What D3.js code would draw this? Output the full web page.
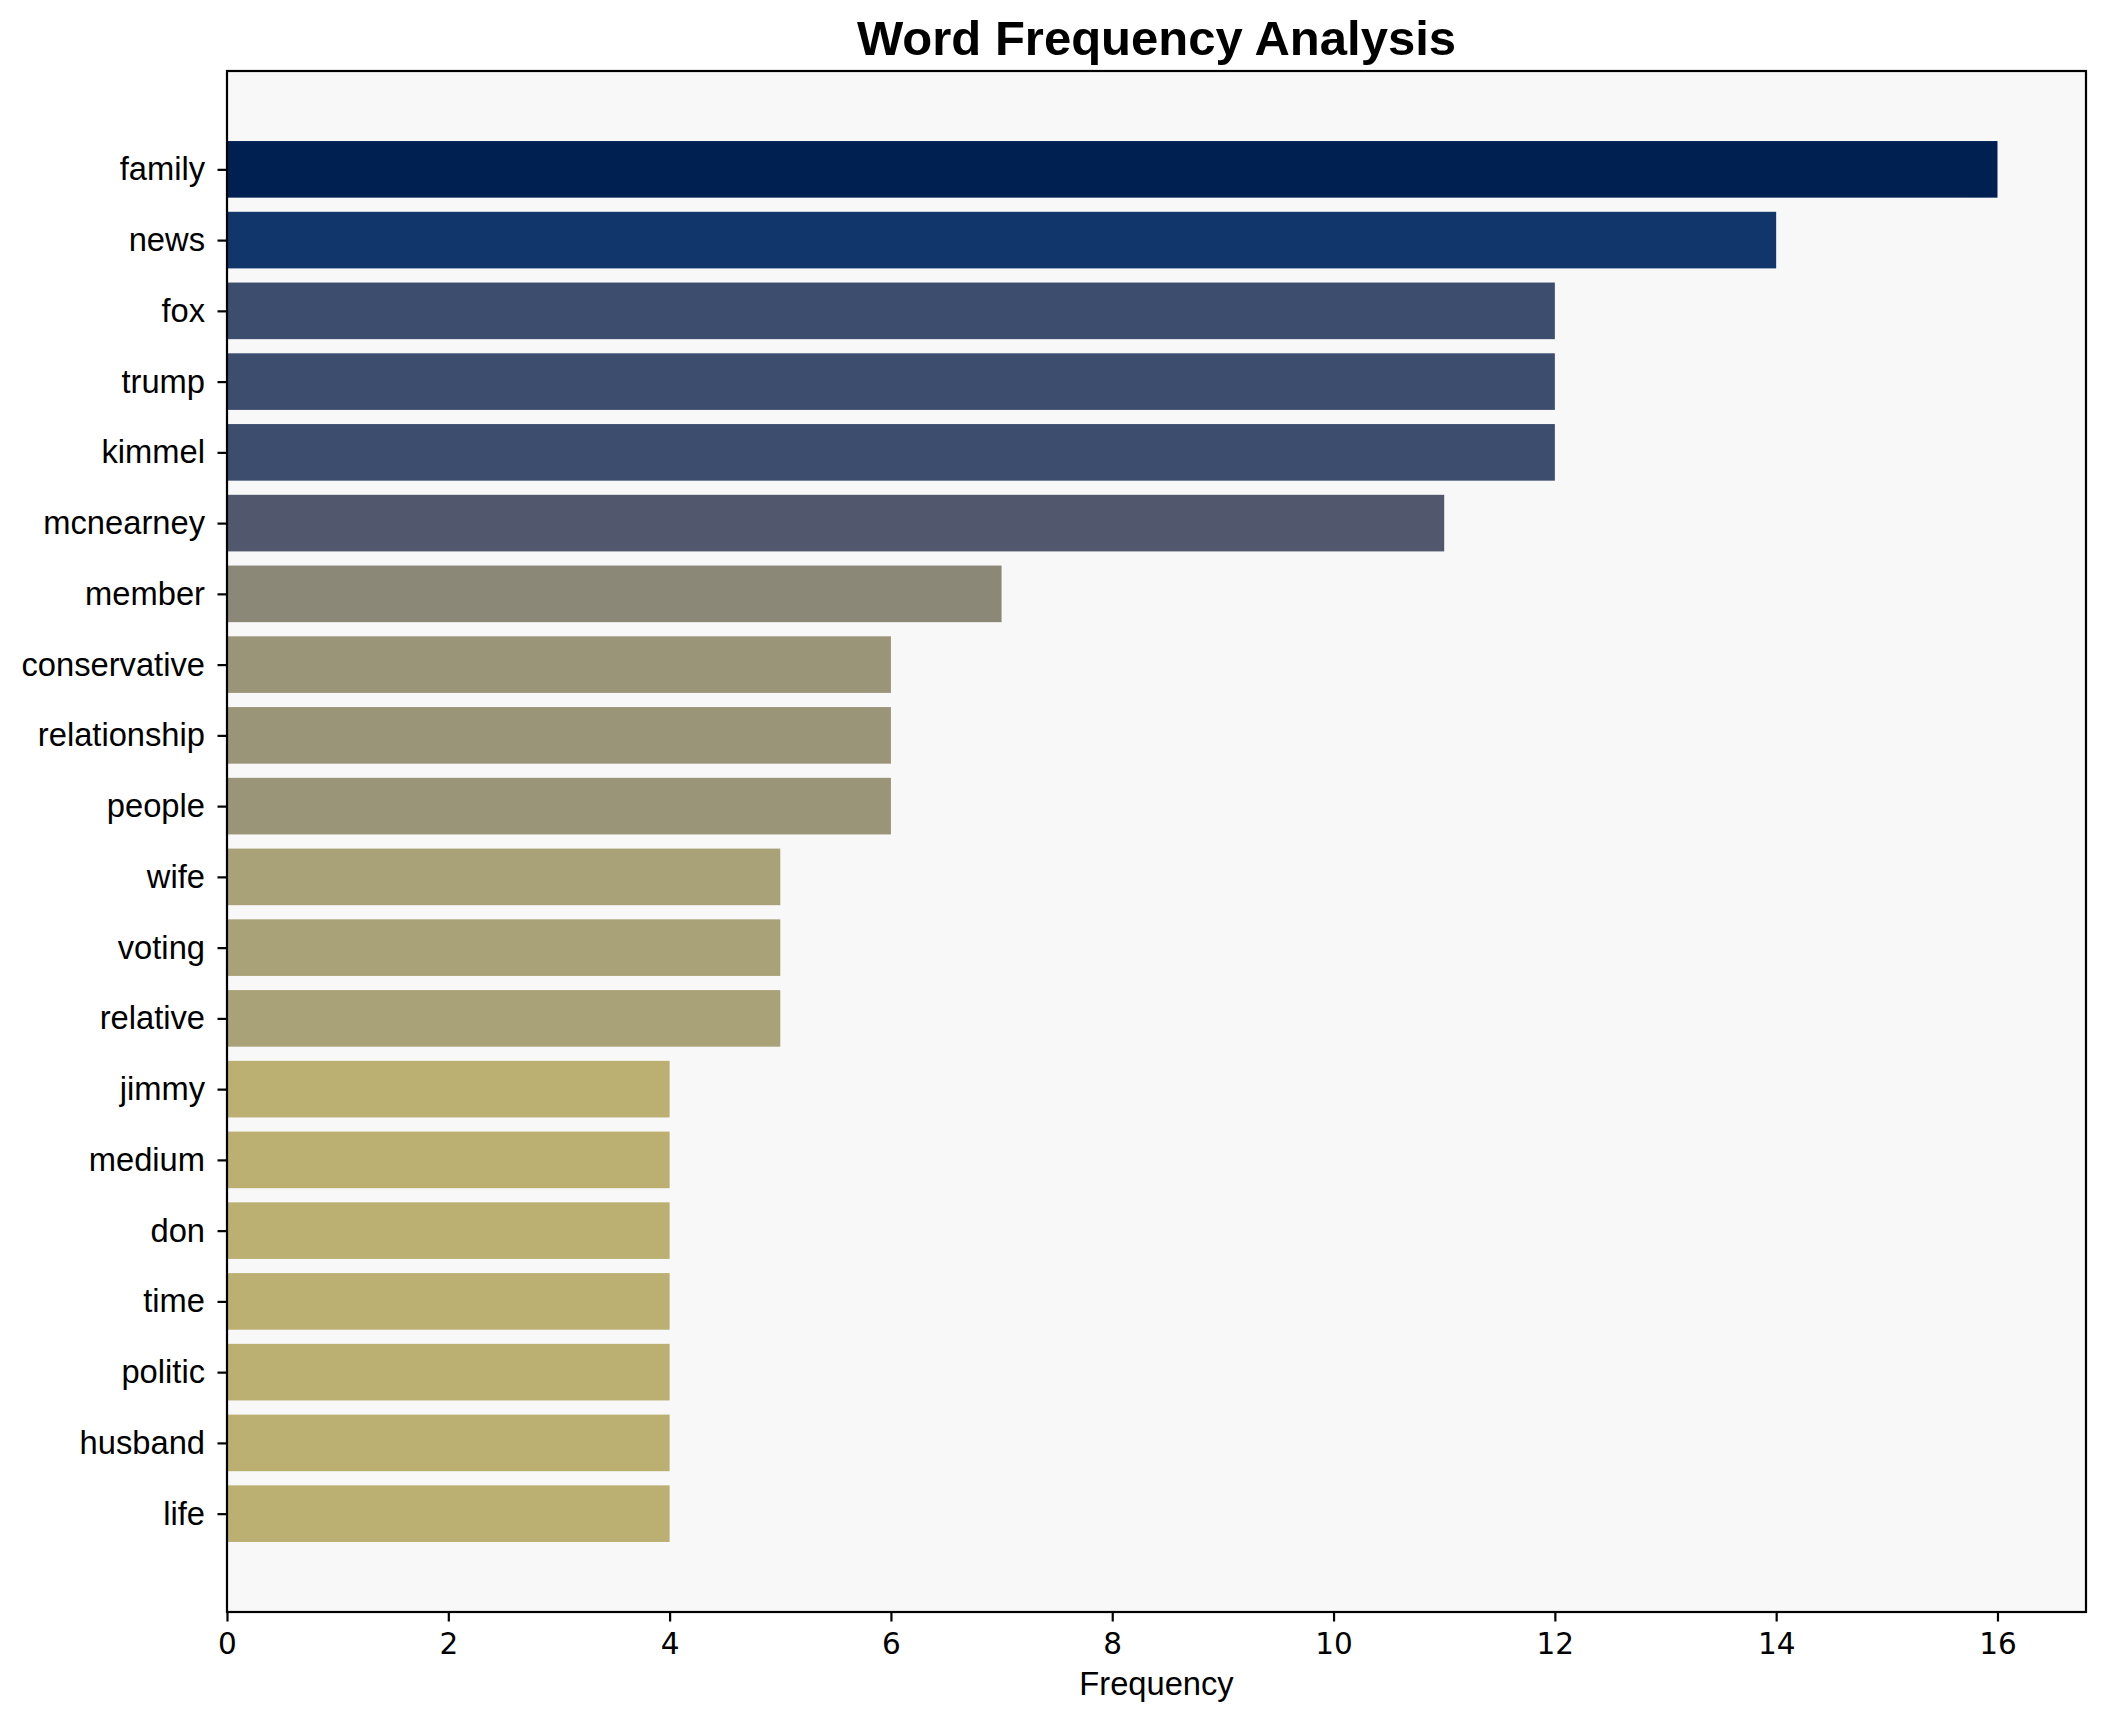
<!DOCTYPE html>
<html>
<head>
<meta charset="utf-8">
<script src="https://cdn.jsdelivr.net/npm/d3@7"></script>
<style>
  body { margin: 0; background: #fff; }
  text { fill: #000; }
</style>
</head>
<body>
<svg id="chart"></svg>
<script>
// words and counts, top to bottom
const words = ['family', 'news', 'fox', 'trump', 'kimmel', 'mcnearney', 'member', 'conservative',
  'relationship', 'people', 'wife', 'voting', 'relative', 'jimmy', 'medium', 'don', 'time',
  'politic', 'husband', 'life'];
const counts = [16, 14, 12, 12, 12, 11, 7, 6, 6, 6, 5, 5, 5, 4, 4, 4, 4, 4, 4, 4];
const xTicks = [0, 2, 4, 6, 8, 10, 12, 14, 16];

const W = 2106, H = 1722;
const mLeft = 227, mRight = 2086, mTop = 71, mBottom = 1612;
const sans = '"Liberation Sans", Arial, sans-serif';

const svg = d3.select('#chart').attr('width', W).attr('height', H);

const maxCount = d3.max(counts);
const x = d3.scaleLinear().domain([0, maxCount * 1.05]).range([mLeft, mRight]);
// matplotlib style margins around bar band (bar height 0.8)
const n = words.length;
const span = (n - 1) + 0.8;
const y = d3.scaleLinear()
  .domain([-0.4 - span * 0.05, n - 1 + 0.4 + span * 0.05])
  .range([mTop, mBottom]);

const color = v => d3.interpolateCividis(1 - v / maxCount);

// axes background
svg.append('rect')
  .attr('x', mLeft).attr('y', mTop)
  .attr('width', mRight - mLeft).attr('height', mBottom - mTop)
  .attr('fill', '#f8f8f8');

// bars
svg.selectAll('.bar')
  .data(counts)
  .enter()
  .append('rect')
  .attr('class', 'bar')
  .attr('x', x(0))
  .attr('y', (d, i) => y(i - 0.4))
  .attr('width', d => x(d) - x(0))
  .attr('height', y(0.4) - y(-0.4))
  .attr('fill', d => color(d));

// y axis
const yAxis = d3.axisLeft(y)
  .tickValues(d3.range(n))
  .tickFormat(i => words[i])
  .tickSize(9.5)
  .tickPadding(12.5)
  .tickSizeOuter(0);
const gy = svg.append('g').attr('transform', `translate(${mLeft},0)`).call(yAxis);
gy.select('.domain').remove();
gy.selectAll('line').attr('stroke', '#000').attr('stroke-width', 2.2);
gy.selectAll('text').style('font-size', '32.7px').style('font-family', sans);

// x axis (default matplotlib font for these)
const xAxis = d3.axisBottom(x)
  .tickValues(xTicks)
  .tickSize(9.5)
  .tickPadding(11.5)
  .tickSizeOuter(0);
const gx = svg.append('g').attr('transform', `translate(0,${mBottom})`).call(xAxis);
gx.select('.domain').remove();
gx.selectAll('line').attr('stroke', '#000').attr('stroke-width', 2.2);
gx.selectAll('text').style('font-size', '29.5px').style('font-family', '"DejaVu Sans", sans-serif');

// frame
svg.append('rect')
  .attr('x', mLeft).attr('y', mTop)
  .attr('width', mRight - mLeft).attr('height', mBottom - mTop)
  .attr('fill', 'none')
  .attr('stroke', '#000')
  .attr('stroke-width', 2.2);

// labels
svg.append('text')
  .attr('x', (mLeft + mRight) / 2).attr('y', 1695)
  .attr('text-anchor', 'middle')
  .style('font-family', sans)
  .style('font-size', '32.7px')
  .text('Frequency');

svg.append('text')
  .attr('x', (mLeft + mRight) / 2).attr('y', 55)
  .attr('text-anchor', 'middle')
  .style('font-family', sans)
  .style('font-size', '49px')
  .style('font-weight', 'bold')
  .text('Word Frequency Analysis');
</script>
</body>
</html>
